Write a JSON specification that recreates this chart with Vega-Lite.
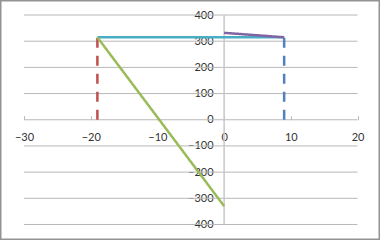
{
  "$schema": "https://vega.github.io/schema/vega-lite/v6.json",
  "width": 380,
  "height": 240,
  "autosize": {"type": "none"},
  "padding": 0,
  "background": "white",
  "config": {
    "view": {"stroke": "#939393", "strokeWidth": 3},
    "axis": {"labelFont": "Lato", "labelFontSize": 11, "labelColor": "#333333", "title": null}
  },
  "datasets": {
    "series": [
      {"s": "A", "o": 1, "x": -19, "y": 0},
      {"s": "A", "o": 2, "x": -19, "y": 315},
      {"s": "B", "o": 1, "x": 9, "y": 0},
      {"s": "B", "o": 2, "x": 9, "y": 315},
      {"s": "C", "o": 1, "x": -19, "y": 315},
      {"s": "C", "o": 2, "x": 9, "y": 315},
      {"s": "D", "o": 1, "x": 0, "y": 332},
      {"s": "D", "o": 2, "x": 9, "y": 315},
      {"s": "E", "o": 1, "x": -19, "y": 315},
      {"s": "E", "o": 2, "x": 0, "y": -330}
    ],
    "grid": [
      {"g": -400}, {"g": -300}, {"g": -200}, {"g": -100}, {"g": 0},
      {"g": 100}, {"g": 200}, {"g": 300}, {"g": 400}
    ]
  },
  "layer": [
    {
      "data": {"name": "grid"},
      "mark": {"type": "rule", "color": "#b8b8b8", "strokeWidth": 1},
      "encoding": {
        "y": {"field": "g", "type": "quantitative",
          "scale": {"domain": [-459.3, 457.4], "nice": false, "zero": false},
          "axis": {"values": [-400, -300, -200, -100, 0, 100, 200, 300, 400], "offset": -224.1, "domain": false, "ticks": false, "grid": false, "labelPadding": 11, "labelOverlap": false, "labelFlush": false, "labelBound": false}},
        "x": {"datum": -30, "type": "quantitative",
          "scale": {"domain": [-33.6, 23.37], "nice": false, "zero": false},
          "axis": {"values": [-30, -20, -10, 0, 10, 20], "offset": -120.3, "domain": false, "grid": false, "ticks": true, "tickSize": -4, "tickColor": "#b8b8b8", "labelPadding": 16, "labelOverlap": false, "labelFlush": false, "labelBound": false}},
        "x2": {"datum": 20}
      }
    },
    {
      "data": {"values": [{"v": 0}]},
      "mark": {"type": "rule", "color": "#c8c8c8", "strokeWidth": 1.5},
      "encoding": {
        "x": {"field": "v", "type": "quantitative",
          "axis": {"values": [-30, -20, -10, 0, 10, 20], "offset": -120.3, "domain": false, "grid": false, "ticks": true, "tickSize": -4, "tickColor": "#b8b8b8", "labelPadding": 16, "labelOverlap": false, "labelFlush": false, "labelBound": false}},
        "y": {"datum": -400, "type": "quantitative",
          "axis": {"values": [-400, -300, -200, -100, 0, 100, 200, 300, 400], "offset": -224.1, "domain": false, "ticks": false, "grid": false, "labelPadding": 11, "labelOverlap": false, "labelFlush": false, "labelBound": false}},
        "y2": {"datum": 400}
      }
    },
    {
      "data": {"name": "series"},
      "mark": {"type": "line", "strokeWidth": 2.5},
      "encoding": {
        "x": {"field": "x", "type": "quantitative",
          "axis": {"values": [-30, -20, -10, 0, 10, 20], "offset": -120.3, "domain": false, "grid": false, "ticks": true, "tickSize": -4, "tickColor": "#b8b8b8", "labelPadding": 16, "labelOverlap": false, "labelFlush": false, "labelBound": false}},
        "y": {"field": "y", "type": "quantitative",
          "axis": {"values": [-400, -300, -200, -100, 0, 100, 200, 300, 400], "offset": -224.1, "domain": false, "ticks": false, "grid": false, "labelPadding": 11, "labelOverlap": false, "labelFlush": false, "labelBound": false}},
        "order": {"field": "o"},
        "color": {"field": "s", "type": "nominal",
          "scale": {"domain": ["A", "B", "C", "D", "E"], "range": ["#C0504D", "#4F81BD", "#4BACC6", "#8064A2", "#9BBB59"]},
          "legend": null},
        "strokeDash": {"field": "s", "type": "nominal",
          "scale": {"domain": ["A", "B", "C", "D", "E"], "range": [[10, 8], [10, 8], [1, 0], [1, 0], [1, 0]]},
          "legend": null}
      }
    }
  ]
}
